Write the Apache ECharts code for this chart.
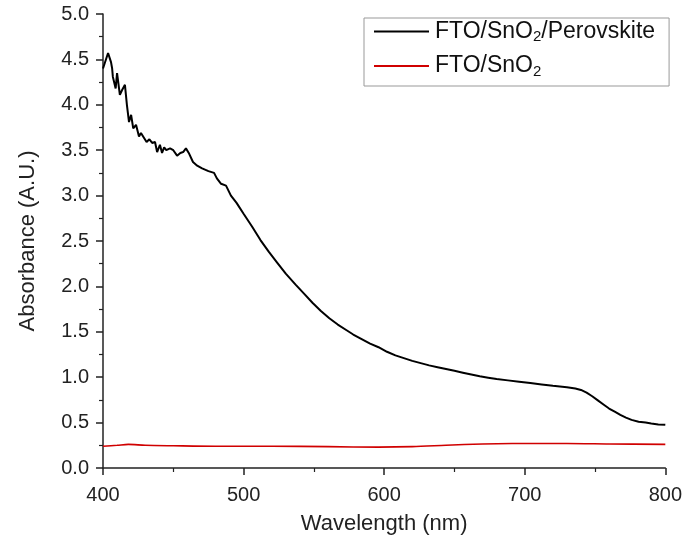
<!DOCTYPE html>
<html>
<head>
<meta charset="utf-8">
<script src="https://cdn.jsdelivr.net/npm/echarts@6/dist/echarts.min.js"></script>
<style>html,body{margin:0;padding:0;background:#fff}#c{width:685px;height:545px}</style>
</head>
<body>
<div id="c"></div>
<script>
// Perovskite sample: wavelength (nm) and absorbance
const perovWl = [400,403.6,405.7,406.5,407,409,410,412,413.5,415.6,417,418.5,420,421.5,423.5,425.6,427,429,431,433,435,437,438.5,440.5,442,443.5,445,447.7,450,452.7,455,457,459,461,464,467,470.5,475,479,481,484,487.5,491,495,500,506,512,518,524,530,537,543,549,555,561,567,573,578,584,590,596,602,608,614,620,626,632,638,644,650,656,662,668,674,680,688,696,704,712,720,730,736,740,744,748,752,756,760,764,768,772,776,781,786,790,795,800];
const perovAbs = [4.40,4.57,4.47,4.40,4.31,4.18,4.35,4.11,4.16,4.22,4.00,3.81,3.89,3.74,3.78,3.65,3.69,3.64,3.59,3.62,3.58,3.59,3.48,3.56,3.47,3.53,3.50,3.52,3.50,3.44,3.47,3.48,3.52,3.47,3.37,3.33,3.30,3.27,3.25,3.19,3.13,3.11,3.00,2.92,2.80,2.66,2.51,2.38,2.26,2.14,2.02,1.92,1.82,1.73,1.65,1.58,1.52,1.47,1.42,1.37,1.33,1.28,1.24,1.21,1.18,1.155,1.13,1.11,1.09,1.07,1.05,1.03,1.01,0.995,0.98,0.965,0.95,0.935,0.92,0.905,0.89,0.875,0.86,0.83,0.79,0.745,0.70,0.655,0.62,0.585,0.555,0.53,0.51,0.50,0.49,0.48,0.475,0.47];
// SnO2 sample
const sno2Wl = [400,410,418,430,450,480,520,560,596,620,644,670,691,710,730,760,800];
const sno2Abs = [0.24,0.25,0.26,0.25,0.245,0.24,0.24,0.235,0.23,0.235,0.25,0.265,0.27,0.27,0.27,0.265,0.26];
const xTicks = [400,500,600,700,800];
const yTicks = [0,0.5,1,1.5,2,2.5,3,3.5,4,4.5,5];
const seriesNames = ['FTO/SnO2/Perovskite','FTO/SnO2'];

const zip = (a,b) => a.map((v,i)=>[v,b[i]]);
const chart = echarts.init(document.getElementById('c'));
const font = 'Liberation Sans, Arial, sans-serif';
const axisCommon = {
  axisLine:{show:true,onZero:false,lineStyle:{color:'#222',width:1.5}},
  axisTick:{show:true,inside:false,length:7,lineStyle:{color:'#222',width:1.5}},
  minorTick:{show:true,splitNumber:2,length:4,lineStyle:{color:'#222',width:1.2}},
  splitLine:{show:false},
  nameTextStyle:{fontFamily:font,fontSize:22,color:'#222'}
};
chart.setOption({
  animation:false,
  backgroundColor:'#fff',
  grid:{left:103,right:19,top:14,bottom:77},
  legend:{
    show:true,orient:'vertical',left:364,top:18,
    padding:[2,14,7,10],itemGap:10,
    borderColor:'#999',borderWidth:1,
    icon:'rect',itemWidth:55,itemHeight:2,
    data:seriesNames,
    formatter:function(n){return n===seriesNames[0]?'{t|FTO/SnO}{s|2}{t|/Perovskite}':'{t|FTO/SnO}{s|2}';},
    textStyle:{fontFamily:font,color:'#111',padding:[0,0,0,1],
      rich:{t:{fontFamily:font,fontSize:23,lineHeight:26,color:'#111'},
            s:{fontFamily:font,fontSize:15,lineHeight:15,verticalAlign:'bottom',color:'#111'}}}
  },
  xAxis:Object.assign({},axisCommon,{
    type:'value',min:xTicks[0],max:xTicks[xTicks.length-1],interval:100,
    name:'Wavelength (nm)',nameLocation:'middle',nameGap:45,
    axisLabel:{fontFamily:font,fontSize:20,color:'#222',margin:17}
  }),
  yAxis:Object.assign({},axisCommon,{
    type:'value',min:yTicks[0],max:yTicks[yTicks.length-1],interval:0.5,
    name:'Absorbance (A.U.)',nameLocation:'middle',nameGap:64,
    axisLabel:{fontFamily:font,fontSize:20,color:'#222',margin:14,formatter:v=>v.toFixed(1)}
  }),
  series:[
    {name:seriesNames[0],type:'line',data:zip(perovWl,perovAbs),showSymbol:false,symbol:'none',
     color:'#000',lineStyle:{color:'#000',width:2}},
    {name:seriesNames[1],type:'line',data:zip(sno2Wl,sno2Abs),showSymbol:false,symbol:'none',smooth:0.3,
     color:'#d00000',lineStyle:{color:'#d00000',width:1.6}}
  ]
});
</script>
</body>
</html>
